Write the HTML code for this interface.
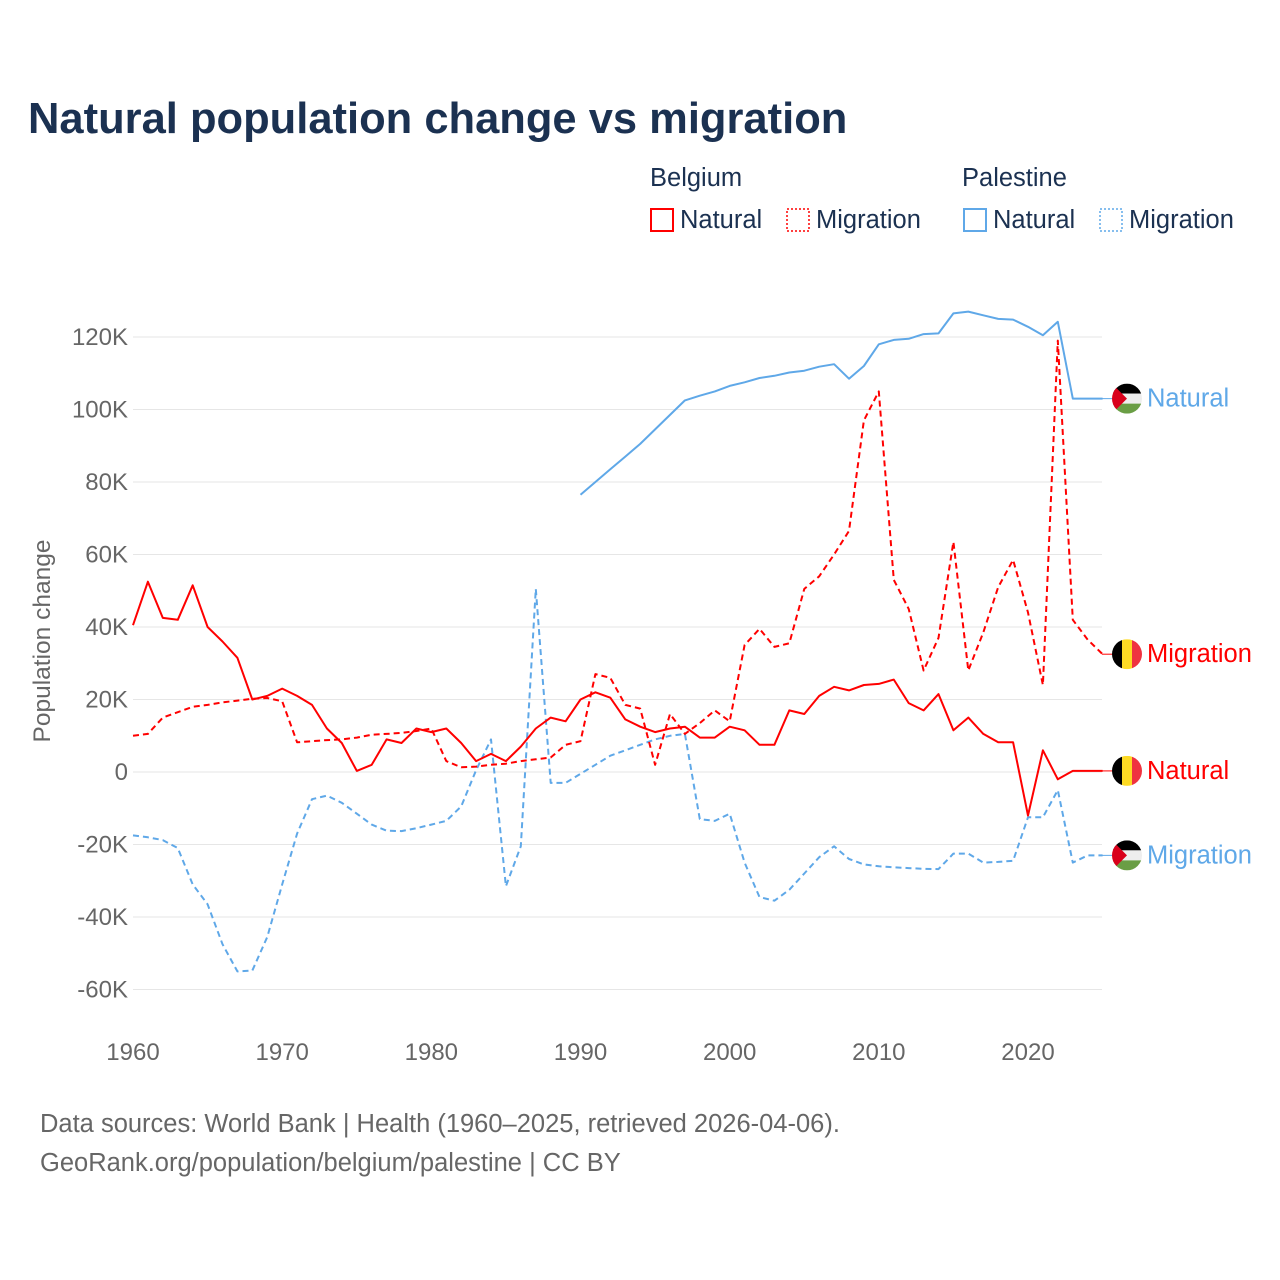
<!DOCTYPE html>
<html><head><meta charset="utf-8">
<style>
body{margin:0;background:#fff;}
svg{display:block;font-family:"Liberation Sans",sans-serif;}
</style></head>
<body>
<svg id="chart" width="1280" height="1280" viewBox="0 0 1280 1280">
<text x="28" y="133" font-size="43.5" font-weight="bold" fill="#1b3151">Natural population change vs migration</text>
<g font-size="25.5" fill="#1b3151">
 <text x="650" y="186">Belgium</text>
 <text x="962" y="186">Palestine</text>
 <g><rect x="651" y="209" width="22" height="22" fill="none" stroke="#ff0000" stroke-width="2"/><text x="680" y="228">Natural</text></g>
 <g><rect x="787" y="209" width="22" height="22" fill="none" stroke="#ff0000" stroke-width="1.5" stroke-dasharray="2,2"/><text x="816" y="228">Migration</text></g>
 <g><rect x="964" y="209" width="22" height="22" fill="none" stroke="#5fa8e8" stroke-width="2"/><text x="993" y="228">Natural</text></g>
 <g><rect x="1100" y="209" width="22" height="22" fill="none" stroke="#5fa8e8" stroke-width="1.5" stroke-dasharray="2,2"/><text x="1129" y="228">Migration</text></g>
</g>
<g id="grid"></g><g id="yticks"></g><g id="xticks"></g><g id="lines"></g><g id="ends"></g>
<text transform="translate(50,641) rotate(-90)" text-anchor="middle" font-size="24.5" fill="#666">Population change</text>
<text x="40" y="1132" font-size="25.5" fill="#666">Data sources: World Bank | Health (1960–2025, retrieved 2026-04-06).</text>
<text x="40" y="1171" font-size="25.5" fill="#666">GeoRank.org/population/belgium/palestine | CC BY</text>
</svg>
<script>
const yTicks=[-60000,-40000,-20000,0,20000,40000,60000,80000,100000,120000];
const yTickLabels=["-60K","-40K","-20K","0","20K","40K","60K","80K","100K","120K"];
const xTicks=[1960,1970,1980,1990,2000,2010,2020];
const belNatural=[40.5,52.5,42.5,42,51.5,40,36,31.5,20,21,23,21,18.5,12,8,0.3,2,9,8,12,11,12,8,3,5,3,7,12,15,14,20,22,20.5,14.5,12.5,11,12,12.5,9.5,9.5,12.5,11.5,7.5,7.5,17,16,21,23.5,22.5,24,24.3,25.5,19,17,21.5,11.5,15,10.5,8.2,8.2,-12,6,-2,0.3,0.3,0.3];
const belMigration=[10,10.5,15,16.5,18,18.5,19.2,19.7,20.2,20.4,19.5,8.2,8.5,8.8,9,9.5,10.3,10.5,10.8,11.3,12,3,1.3,1.5,2,2.3,3,3.5,4,7.5,8.5,27,26,18.5,17.5,2,16,10.5,13.5,17,14,35,39.5,34.5,35.5,50.5,54,60,66.5,97,105,53,45,28,37,63.5,28,38.5,51,58.5,44,24,119,42,36.5,32.5];
const palNatural=[76.5,80,83.5,87,90.5,94.5,98.5,102.5,103.8,105,106.5,107.5,108.7,109.3,110.2,110.7,111.8,112.5,108.5,112,118,119.2,119.5,120.8,121,126.5,127,126,125,124.8,122.8,120.5,124.2,103,103,103];
const palMigration=[-17.5,-18,-18.8,-21,-31,-36.5,-47.5,-55,-54.8,-45.5,-31,-17,-7.5,-6.5,-8.5,-11.5,-14.5,-16.2,-16.3,-15.5,-14.5,-13.5,-9.5,0.5,9,-31.5,-20.5,50.5,-3,-3,-0.5,2,4.5,6,7.5,9,10,10.5,-13,-13.5,-11.5,-25,-34.5,-35.5,-32.5,-28,-23.5,-20.5,-24,-25.5,-26,-26.3,-26.5,-26.7,-26.8,-22.5,-22.5,-25,-24.8,-24.5,-12.5,-12.5,-5,-25,-23,-23];

const NS="http://www.w3.org/2000/svg";
const xs=y=>133+(y-1960)*(895/60);
const ys=v=>772-v*(435/120000);
function mk(tag,attrs,parent){const e=document.createElementNS(NS,tag);for(const k in attrs)e.setAttribute(k,attrs[k]);parent.appendChild(e);return e;}
const grid=document.getElementById('grid'),yt=document.getElementById('yticks'),xt=document.getElementById('xticks'),lines=document.getElementById('lines'),ends=document.getElementById('ends');
yTicks.forEach((v,i)=>{
 const l=mk('line',{x1:133,x2:1102,y1:ys(v),y2:ys(v),stroke:'#e6e6e6','stroke-width':1},grid);
 
 
 const t=mk('text',{x:128,y:ys(v)+8,'text-anchor':'end','font-size':24,fill:'#666'},yt);
 t.textContent=yTickLabels[i];
 
 
});
xTicks.forEach(y=>{
 const t=mk('text',{x:xs(y),y:1060,'text-anchor':'middle','font-size':24,fill:'#666'},xt);
 t.textContent=y;
 
 
});
function series(data,start,color,dash,name){
 const pts=data.map((v,i)=>xs(start+i).toFixed(1)+','+ys(v*1000).toFixed(1)).join(' ');
 const p=mk('polyline',{points:pts,fill:'none',stroke:color,'stroke-width':2,'stroke-dasharray':dash,'stroke-linejoin':'round'},lines);
 
 
}
series(palMigration,1960,'#5fa8e8','6,4','line-palestine-migration');
series(palNatural,1990,'#5fa8e8','none','line-palestine-natural');
series(belMigration,1960,'#ff0000','6,4','line-belgium-migration');
series(belNatural,1960,'#ff0000','none','line-belgium-natural');

function flag(cy,kind,id){
 const g=mk('g',{},ends);
 
 
 const cp=mk('clipPath',{id:id},g);
 mk('circle',{cx:1127,cy:cy,r:15},cp);
 const gg=mk('g',{'clip-path':'url(#'+id+')'},g);
 if(kind==='belgium'){
  mk('rect',{x:1112,y:cy-15,width:10,height:30,fill:'#000'},gg);
  mk('rect',{x:1122,y:cy-15,width:10,height:30,fill:'#fdda24'},gg);
  mk('rect',{x:1132,y:cy-15,width:10,height:30,fill:'#ef3340'},gg);
 }else{
  mk('rect',{x:1112,y:cy-15,width:30,height:10,fill:'#000'},gg);
  mk('rect',{x:1112,y:cy-5,width:30,height:10,fill:'#eee'},gg);
  mk('rect',{x:1112,y:cy+5,width:30,height:10,fill:'#6a9e45'},gg);
  mk('polygon',{points:`1112,${cy-15} 1127,${cy} 1112,${cy+15}`,fill:'#d9001b'},gg);
 }
}
function endLabel(v,color,kind,label,id,name){
 const y=ys(v*1000);
 const c=mk('line',{x1:1102,x2:1113,y1:y,y2:y,stroke:color,'stroke-width':1},ends);
 
 
 flag(y,kind,id);
 const t=mk('text',{x:1147,y:y+8,'font-size':25.5,fill:color},ends);
 t.textContent=label;
 
 
}
endLabel(palNatural[palNatural.length-1],'#5fa8e8','palestine','Natural','c1','end-label-palestine-natural');
endLabel(belMigration[belMigration.length-1],'#ff0000','belgium','Migration','c2','end-label-belgium-migration');
endLabel(belNatural[belNatural.length-1],'#ff0000','belgium','Natural','c3','end-label-belgium-natural');
endLabel(palMigration[palMigration.length-1],'#5fa8e8','palestine','Migration','c4','end-label-palestine-migration');
</script>
</body></html>
